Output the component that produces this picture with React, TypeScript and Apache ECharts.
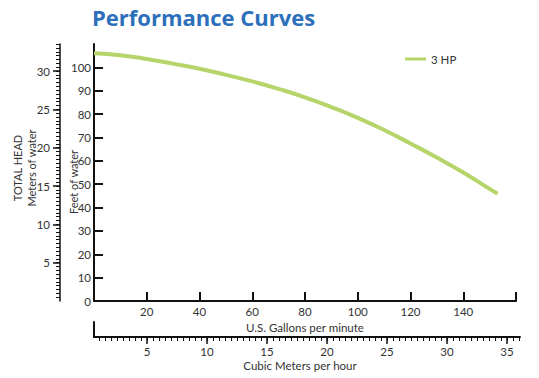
import React, { useEffect, useRef } from "react";
import * as echarts from "echarts";

// Flow in U.S. gallons per minute and total head in feet of water (3 HP curve)
const flowGpm = [0, 10, 20, 30, 40, 50, 60, 70, 80, 90, 100, 110, 120, 130, 140, 150, 153];
const headFt = [106, 105.2, 103.6, 101.6, 99.4, 96.8, 94, 90.8, 87.2, 83, 78.4, 73.2, 67.4, 61.4, 55, 48, 45.9];
const seriesName = "3 HP";

// Tick labels
const feetTicks = [0, 10, 20, 30, 40, 50, 60, 70, 80, 90, 100];
const meterTicks = [5, 10, 15, 20, 25, 30];
const gpmTicks = [20, 40, 60, 80, 100, 120, 140, 160];
const gpmLabels = [20, 40, 60, 80, 100, 120, 140];
const cmhTicks = [5, 10, 15, 20, 25, 30, 35];

const FT_PER_M = 3.28084;
const FEET_MAX = 110;
const CMH_MIN = 7 / 12;
const CMH_MAX = 433 / 12;

const meterMinor: number[] = [];
for (let v = 0.5; v <= 33.5; v += 0.5) meterMinor.push(v);
const cmhMinor: number[] = [];
for (let v = 1; v <= 36; v += 0.5) cmhMinor.push(v);

const FONT = "Lato, 'Open Sans', sans-serif";
const TEXT = "#333";
const AXIS = "#111";

export default function App() {
  const ref = useRef<HTMLDivElement>(null);
  useEffect(() => {
    if (!ref.current) return;
    const chart = echarts.init(ref.current, undefined, { renderer: "svg" });
    const lbl = { fontFamily: FONT, fontSize: 11.5, color: TEXT };
    chart.setOption({
      animation: false,
      backgroundColor: "#fff",
      textStyle: { fontFamily: FONT },
      title: {
        text: "Performance Curves",
        left: 92,
        top: 6,
        padding: 0,
        textStyle: { fontFamily: "'Open Sans', Lato, sans-serif", fontWeight: 700, fontSize: 22, color: "#2c6fbb" },
      },
      legend: {
        data: [seriesName],
        left: 400,
        top: 48,
        icon: "rect",
        itemWidth: 21,
        itemHeight: 3,
        itemGap: 5,
        textStyle: { ...lbl, fontSize: 11.5 },
      },
      grid: [
        { left: 94, top: 44, width: 422, height: 257 },
        { left: 94, top: 322, width: 426, height: 15 },
      ],
      xAxis: [
        {
          type: "value",
          gridIndex: 0,
          min: 0,
          max: 160,
          position: "bottom",
          axisLine: { show: true, lineStyle: { color: AXIS, width: 2 } },
          axisTick: { show: true, inside: true, length: 9, customValues: gpmTicks, lineStyle: { color: AXIS, width: 2 } },
          axisLabel: { customValues: gpmLabels, margin: 4, ...lbl },
          splitLine: { show: false },
          name: "U.S. Gallons per minute",
          nameLocation: "middle",
          nameGap: 17,
          nameTextStyle: { ...lbl },
        },
        {
          type: "value",
          gridIndex: 1,
          min: CMH_MIN,
          max: CMH_MAX,
          position: "bottom",
          axisLine: { show: true, lineStyle: { color: AXIS, width: 2 } },
          axisTick: { show: true, inside: false, length: 7, customValues: cmhTicks, lineStyle: { color: AXIS, width: 1.5 } },
          axisLabel: { customValues: cmhTicks, margin: 8, ...lbl },
          splitLine: { show: false },
          name: "Cubic Meters per hour",
          nameLocation: "middle",
          nameGap: 22,
          nameTextStyle: { ...lbl, padding: [0, 14, 0, 0] },
        },
        {
          type: "value",
          gridIndex: 1,
          min: CMH_MIN,
          max: CMH_MAX,
          position: "bottom",
          axisLine: { show: false },
          axisTick: { show: true, inside: false, length: 4, customValues: cmhMinor, lineStyle: { color: AXIS, width: 1 } },
          axisLabel: { show: false },
          splitLine: { show: false },
        },
      ],
      yAxis: [
        {
          type: "value",
          gridIndex: 0,
          min: 0,
          max: FEET_MAX,
          position: "left",
          axisLine: { show: true, lineStyle: { color: AXIS, width: 2 } },
          axisTick: { show: true, inside: true, length: 9, customValues: feetTicks, lineStyle: { color: AXIS, width: 2 } },
          axisLabel: { customValues: feetTicks, margin: 3, ...lbl },
          splitLine: { show: false },
        },
        {
          type: "value",
          gridIndex: 0,
          min: 0,
          max: FEET_MAX / FT_PER_M,
          position: "left",
          offset: 34,
          axisLine: { show: true, lineStyle: { color: AXIS, width: 1.5 } },
          axisTick: { show: true, inside: false, length: 7, customValues: meterTicks, lineStyle: { color: AXIS, width: 1.5 } },
          axisLabel: { customValues: meterTicks, margin: 10, ...lbl },
          splitLine: { show: false },
        },
        {
          type: "value",
          gridIndex: 0,
          min: 0,
          max: FEET_MAX / FT_PER_M,
          position: "left",
          offset: 34,
          axisLine: { show: false },
          axisTick: { show: true, inside: false, length: 4, customValues: meterMinor, lineStyle: { color: AXIS, width: 1 } },
          axisLabel: { show: false },
          splitLine: { show: false },
        },
        {
          type: "value",
          gridIndex: 1,
          min: 0,
          max: 1,
          axisLine: { show: true, lineStyle: { color: AXIS, width: 2 } },
          axisTick: { show: false },
          axisLabel: { show: false },
          splitLine: { show: false },
        },
      ],
      graphic: [
        {
          type: "text",
          x: 17,
          y: 168,
          rotation: Math.PI / 2,
          style: { text: "TOTAL HEAD", align: "center", verticalAlign: "middle", font: `11px ${FONT}`, fill: TEXT },
        },
        {
          type: "text",
          x: 31,
          y: 168,
          rotation: Math.PI / 2,
          style: { text: "Meters of water", align: "center", verticalAlign: "middle", font: `11px ${FONT}`, fill: TEXT },
        },
        {
          type: "text",
          x: 73,
          y: 182,
          rotation: Math.PI / 2,
          style: { text: "Feet of water", align: "center", verticalAlign: "middle", font: `11px ${FONT}`, fill: TEXT },
        },
      ],
      series: [
        {
          name: seriesName,
          type: "line",
          xAxisIndex: 0,
          yAxisIndex: 0,
          data: flowGpm.map((q, i) => [q, headFt[i]]),
          smooth: true,
          symbol: "none",
          lineStyle: { color: "#b5d56a", width: 4 },
          itemStyle: { color: "#b5d56a" },
        },
      ],
    });
    return () => chart.dispose();
  }, []);
  return <div ref={ref} style={{ position: "absolute", left: 0, top: 0, width: 539, height: 378 }} />;
}
